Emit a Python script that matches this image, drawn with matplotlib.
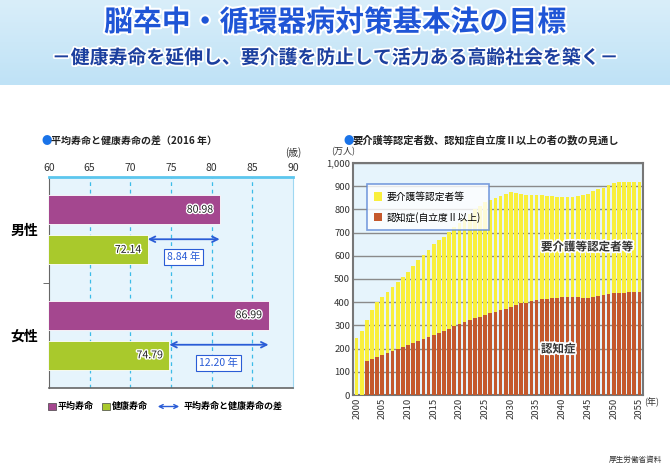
import matplotlib
matplotlib.use("Agg")
import matplotlib.pyplot as plt
import matplotlib.patheffects as pe
from matplotlib.patches import Rectangle, FancyArrowPatch
import numpy as np

plt.rcParams['font.family'] = ['Noto Sans CJK JP', 'DejaVu Sans']

# --- data: left chart (2016) ---
sexes = ['男性', '女性']
life_exp = [80.98, 86.99]
healthy_exp = [72.14, 74.79]
gap_labels = ['8.84 年', '12.20 年']
age_ticks = [60, 65, 70, 75, 80, 85, 90]

# --- data: right chart (万人) ---
years = list(range(2000, 2056))
certified = [244, 277, 323, 366, 402, 421, 444, 464, 487, 510,
             532, 557, 580, 602, 625, 651, 668, 682, 702, 723,
             740, 760, 780, 800, 815, 833, 840, 848, 858, 866,
             874, 869, 866, 863, 862, 862, 862, 858, 856, 855,
             855, 855, 855, 858, 860, 866, 878, 886, 894, 905,
             912, 918, 918, 918, 918, 918]
dementia = [0, 0, 148, 155, 165, 172, 182, 190, 200, 207,
            216, 226, 233, 241, 250, 259, 267, 276, 286, 296,
            306, 315, 322, 330, 338, 345, 352, 359, 365, 372,
            379, 388, 395, 398, 404, 409, 415, 415, 418, 420,
            421, 421, 421, 421, 418, 418, 421, 428, 431, 435,
            441, 441, 441, 444, 444, 444]
year_ticks = list(range(2000, 2056, 5))

PURPLE = '#a4478f'
GREEN = '#a9c92c'
YELLOW = '#f9ef3c'
RED = '#c4582c'
ARROW = '#2a5cd6'
BG = '#e6f4fc'

W, H = 670, 473
fig = plt.figure(figsize=(6.7, 4.73), dpi=100)


def fx(px):
    return px / W


def fy(py):
    return 1 - py / H


# header band
hax = fig.add_axes([0, fy(85), 1, 85 / H])
grad = np.linspace(0, 1, 100).reshape(-1, 1)
hax.imshow(grad, aspect='auto', extent=[0, 1, 0, 1],
           cmap=matplotlib.colors.LinearSegmentedColormap.from_list('h', ['#d9eefa', '#bfe2f6']))
hax.axis('off')
fig.text(0.5, fy(22), '脳卒中・循環器病対策基本法の目標', ha='center', va='center',
         fontsize=20.8, fontweight='bold', color='#1f55d6',
         path_effects=[pe.withStroke(linewidth=3, foreground='white')])
fig.text(0.5, fy(58), '－健康寿命を延伸し、要介護を防止して活力ある高齢社会を築く－',
         ha='center', va='center', fontsize=13.6, fontweight='bold', color='#1c3f9e',
         path_effects=[pe.withStroke(linewidth=2.5, foreground='white')])

# section titles
fig.text(fx(42), fy(141), '●', ha='left', va='center', fontsize=7.5, color='#1a73e8')
fig.text(fx(51), fy(141), '平均寿命と健康寿命の差（2016 年）', ha='left', va='center',
         fontsize=7.2, fontweight='bold', color='#222222')
fig.text(fx(344), fy(141), '●', ha='left', va='center', fontsize=7.5, color='#1a73e8')
fig.text(fx(353), fy(141), '要介護等認定者数、認知症自立度Ⅱ以上の者の数の見通し', ha='left',
         va='center', fontsize=7.4, fontweight='bold', color='#222222')

# ---------------- left chart ----------------
ax = fig.add_axes([fx(49), fy(388), fx(244), 211 / H])
ax.set_facecolor(BG)
ax.set_xlim(60, 90)
ax.set_ylim(2, 0)
centers = np.array([0.5, 1.5])
ax.barh(centers - 0.19, life_exp, height=0.275, color=PURPLE, edgecolor='white', linewidth=0.6, zorder=3)
ax.barh(centers + 0.19, healthy_exp, height=0.275, color=GREEN, edgecolor='white', linewidth=0.6, zorder=3)
for i in range(2):
    for val, yy in ((life_exp[i], centers[i] - 0.19), (healthy_exp[i], centers[i] + 0.19)):
        ax.text(val - 0.8, yy, f'{val:.2f}', ha='right', va='center', fontsize=7.6,
                color='#222222', zorder=5,
                path_effects=[pe.withStroke(linewidth=2, foreground='white')])
    ay = centers[i] + 0.09
    ax.annotate('', xy=(life_exp[i], ay), xytext=(healthy_exp[i], ay),
                arrowprops=dict(arrowstyle='<->', color=ARROW, lw=1.3,
                                shrinkA=0, shrinkB=0), zorder=5)
    ax.text((life_exp[i] + healthy_exp[i]) / 2, centers[i] + 0.26, gap_labels[i],
            ha='center', va='center', fontsize=7.5, color=ARROW, zorder=5,
            bbox=dict(boxstyle='square,pad=0.3', fc='white', ec=ARROW, lw=0.8))

ax.xaxis.tick_top()
ax.set_xticks(age_ticks)
ax.tick_params(axis='x', length=0, labelsize=7.5, labelcolor='#333333', pad=3)
for x in age_ticks[1:-1]:
    ax.axvline(x, color='#3cbce8', lw=0.9, ls=(0, (3, 3)), zorder=1)
ax.set_yticks(centers)
ax.set_yticklabels(sexes, fontsize=10, fontweight='bold')
ax.tick_params(axis='y', length=0, pad=8)
ax.set_yticks([1.0], minor=True)
ax.tick_params(axis='y', which='minor', length=4, color='#555555')
ax.spines['top'].set_color('#5cc6ee')
ax.spines['top'].set_linewidth(2)
ax.spines['right'].set_color('#9fd8f2')
ax.spines['left'].set_color('#666666')
ax.spines['bottom'].set_color('#666666')
ax.spines['bottom'].set_linewidth(1.2)
fig.text(fx(293), fy(153), '(歳)', ha='center', va='center', fontsize=7, color='#333333')

# left legend
fig.add_artist(Rectangle((fx(48), fy(410)), fx(8), 7 / H, transform=fig.transFigure,
                         fc=PURPLE, ec='#444444', lw=0.5))
fig.text(fx(58), fy(406.5), '平均寿命', ha='left', va='center', fontsize=6.5, fontweight='bold')
fig.add_artist(Rectangle((fx(102), fy(410)), fx(8), 7 / H, transform=fig.transFigure,
                         fc=GREEN, ec='#444444', lw=0.5))
fig.text(fx(112), fy(406.5), '健康寿命', ha='left', va='center', fontsize=6.5, fontweight='bold')
fig.add_artist(FancyArrowPatch((fx(155), fy(406.5)), (fx(182), fy(406.5)),
                               transform=fig.transFigure, arrowstyle='<->',
                               mutation_scale=7, color=ARROW, lw=1))
fig.text(fx(184), fy(406.5), '平均寿命と健康寿命の差', ha='left', va='center',
         fontsize=6.5, fontweight='bold')

# ---------------- right chart ----------------
bx = fig.add_axes([fx(353), fy(395), fx(290), 232 / H])
bx.set_facecolor(BG)
bx.bar(years, certified, width=0.72, color=YELLOW, zorder=3, label='要介護等認定者等')
bx.bar(years, dementia, width=0.72, color=RED, zorder=3, label='認知症(自立度Ⅱ以上)')
bx.set_xlim(1999.3, 2055.7)
bx.set_ylim(0, 1000)
bx.set_yticks(range(0, 1001, 100))
bx.set_yticklabels([f'{v:,}' for v in range(0, 1001, 100)])
bx.set_axisbelow(True)
bx.grid(axis='y', color='#8a8a8a', lw=1)
bx.set_xticks(year_ticks)
bx.set_xticklabels([str(y) for y in year_ticks], rotation=90)
bx.tick_params(axis='both', length=0, labelsize=6.8, labelcolor='#333333', pad=2)
for s in bx.spines.values():
    s.set_color('#777777')
    s.set_linewidth(1.5)
leg = bx.legend(loc='upper left', bbox_to_anchor=(0.03, 0.93), fontsize=7,
                frameon=True, fancybox=False, edgecolor='#5b86d6', handlelength=0.8,
                handleheight=0.9, borderpad=0.8, labelspacing=1.0, handletextpad=0.5)
leg.get_frame().set_linewidth(1.2)
inner = [pe.withStroke(linewidth=2.5, foreground='white')]
bx.text(2044.8, 638, '要介護等認定者等', ha='center', va='center', fontsize=8.3,
        fontweight='bold', color='#333333', path_effects=inner, zorder=5)
bx.text(2039.2, 198, '認知症', ha='center', va='center', fontsize=8.3,
        fontweight='bold', color='#333333', path_effects=inner, zorder=5)
fig.text(fx(343), fy(152), '(万人)', ha='center', va='center', fontsize=6.5, color='#333333')
fig.text(fx(652), fy(402), '(年)', ha='center', va='center', fontsize=6.5, color='#333333')

fig.text(fx(662), fy(460), '厚生労働省資料', ha='right', va='center', fontsize=5.5, color='#333333')

fig.savefig('out.png', dpi=100)
